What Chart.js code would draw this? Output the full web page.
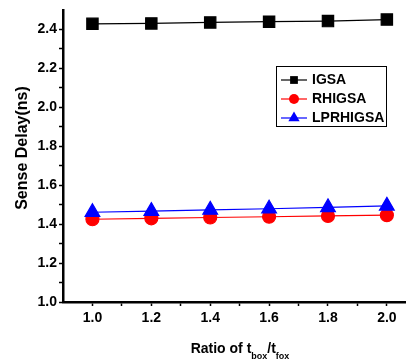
<!DOCTYPE html>
<html>
<head>
<meta charset="utf-8">
<script src="https://cdn.jsdelivr.net/npm/chart.js@4/dist/chart.umd.min.js"></script>
<style>
  html, body { margin: 0; padding: 0; background: #fff; }
  #wrap { width: 406px; height: 363px; }
</style>
</head>
<body>
<div id="wrap"><canvas id="c" width="406" height="363"></canvas></div>
<script>
// Sense delay (ns) against the oxide thickness ratio t_box / t_fox
const ratios   = [1.0, 1.2, 1.4, 1.6, 1.8, 2.0];
const igsa     = [2.429, 2.431, 2.436, 2.440, 2.443, 2.451];
const rhigsa   = [1.425, 1.430, 1.434, 1.438, 1.442, 1.446];
const lprhigsa = [1.461, 1.467, 1.473, 1.479, 1.486, 1.494];

const seriesNames = ['IGSA', 'RHIGSA', 'LPRHIGSA'];
const xTickLabels = ['1.0', '1.2', '1.4', '1.6', '1.8', '2.0'];
const yTickLabels = ['1.0', '1.2', '1.4', '1.6', '1.8', '2.0', '2.2', '2.4'];
const yTitle = 'Sense Delay(ns)';
const xTitleParts = [
  { text: 'Ratio of t', sub: false },
  { text: 'box', sub: true },
  { text: '/t', sub: false },
  { text: 'fox', sub: true }
];

const FONT = '"Liberation Sans", Arial, Helvetica, sans-serif';

function points(ys) {
  return ratios.map((x, i) => ({ x: x, y: ys[i] }));
}

// major ticks at the labelled values, minor ticks half way between them
function withMinor(labels) {
  const major = labels.map(Number);
  const out = [];
  major.forEach((v, i) => {
    out.push(v);
    if (i < major.length - 1) out.push((v + major[i + 1]) / 2);
  });
  return out;
}
const xTicks = withMinor(xTickLabels);
const yTicks = withMinor(yTickLabels);

function labelFor(labels) {
  return (v) => {
    const s = Number(v).toFixed(1);
    return labels.includes(s) ? s : '';
  };
}

function drawMarker(ctx, style, r, x, y, color) {
  ctx.fillStyle = color;
  ctx.beginPath();
  if (style === 'rect') {
    const s = Math.SQRT1_2 * r;
    ctx.rect(x - s, y - s, 2 * s, 2 * s);
  } else if (style === 'circle') {
    ctx.arc(x, y, r, 0, Math.PI * 2);
  } else {
    for (let k = 0; k < 3; k++) {
      const a = k * 2 * Math.PI / 3;
      const px = x + Math.sin(a) * r, py = y - Math.cos(a) * r;
      if (k === 0) ctx.moveTo(px, py); else ctx.lineTo(px, py);
    }
    ctx.closePath();
  }
  ctx.fill();
}

// axis titles (with subscripts) and the boxed legend
const annotate = {
  id: 'annotate',
  afterDraw(chart) {
    const ctx = chart.ctx;
    ctx.save();
    ctx.fillStyle = '#000';

    // y-axis title
    ctx.save();
    ctx.translate(23, 148);
    ctx.rotate(-Math.PI / 2);
    ctx.font = 'bold 16px ' + FONT;
    ctx.textAlign = 'center';
    ctx.textBaseline = 'middle';
    ctx.fillText(yTitle, 0, 0);
    ctx.restore();

    // x-axis title
    const mainFont = 'bold 14px ' + FONT, subFont = 'bold 9px ' + FONT;
    let total = 0;
    xTitleParts.forEach(p => {
      ctx.font = p.sub ? subFont : mainFont;
      p.w = ctx.measureText(p.text).width;
      total += p.w;
    });
    let x = 240 - total / 2;
    ctx.textAlign = 'left';
    ctx.textBaseline = 'alphabetic';
    xTitleParts.forEach(p => {
      ctx.font = p.sub ? subFont : mainFont;
      ctx.fillText(p.text, x, p.sub ? 359 : 353);
      x += p.w;
    });

    // legend
    ctx.strokeStyle = '#000';
    ctx.lineWidth = 1;
    ctx.strokeRect(276.5, 66.5, 110, 60);
    const rowY = [80, 99, 118];
    const legendR = { rect: 5.5, circle: 5, triangle: 6.5 };
    chart.data.datasets.forEach((ds, i) => {
      const y = rowY[i];
      ctx.strokeStyle = ds.borderColor;
      ctx.lineWidth = 1.2;
      ctx.beginPath();
      ctx.moveTo(281, y);
      ctx.lineTo(307, y);
      ctx.stroke();
      drawMarker(ctx, ds.pointStyle, legendR[ds.pointStyle], 294, y, ds.pointBackgroundColor);
      ctx.fillStyle = '#000';
      ctx.font = 'bold 14px ' + FONT;
      ctx.textBaseline = 'middle';
      ctx.fillText(ds.label, 312, y + 0.5);
    });
    ctx.restore();
  }
};

new Chart(document.getElementById('c'), {
  type: 'line',
  data: {
    datasets: [
      { label: seriesNames[0], data: points(igsa), borderColor: '#000000', pointBackgroundColor: '#000000',
        pointBorderColor: '#000000', pointStyle: 'rect', pointRadius: 8, borderWidth: 1.2, order: 3 },
      { label: seriesNames[1], data: points(rhigsa), borderColor: '#ff0000', pointBackgroundColor: '#ff0000',
        pointBorderColor: '#ff0000', pointStyle: 'circle', pointRadius: 6.5, borderWidth: 1.2, order: 2 },
      { label: seriesNames[2], data: points(lprhigsa), borderColor: '#0000ff', pointBackgroundColor: '#0000ff',
        pointBorderColor: '#0000ff', pointStyle: 'triangle', pointRadius: 8.5, borderWidth: 1.2, order: 1 }
    ]
  },
  options: {
    responsive: false,
    animation: false,
    devicePixelRatio: 1,
    layout: { autoPadding: false, padding: { top: 10, right: 0, left: 0, bottom: 0 } },
    plugins: { legend: { display: false }, tooltip: { enabled: false } },
    elements: { line: { tension: 0, fill: false }, point: { borderWidth: 0 } },
    scales: {
      x: {
        type: 'linear',
        min: 0.9,
        max: 2.065,
        afterBuildTicks: (s) => { s.ticks = xTicks.map(v => ({ value: v })); },
        afterFit: (s) => { s.height = 61; s.paddingLeft = 0; s.paddingRight = 0; },
        border: { display: true, color: '#000', width: 2.5 },
        grid: { drawOnChartArea: false, drawTicks: true, tickLength: 4, color: '#000', tickWidth: 1.5 },
        ticks: {
          autoSkip: false, maxRotation: 0, padding: 4, color: '#000',
          font: { family: FONT, size: 14, weight: 'bold' },
          callback: labelFor(xTickLabels)
        }
      },
      y: {
        type: 'linear',
        min: 1.0,
        max: 2.5,
        afterBuildTicks: (s) => { s.ticks = yTicks.map(v => ({ value: v })); },
        afterFit: (s) => { s.width = 63; s.paddingTop = 0; s.paddingBottom = 0; },
        border: { display: true, color: '#000', width: 2.5 },
        grid: { drawOnChartArea: false, drawTicks: true, tickLength: 4, color: '#000', tickWidth: 1.5 },
        ticks: {
          autoSkip: false, padding: 2, color: '#000',
          font: { family: FONT, size: 14, weight: 'bold' },
          callback: labelFor(yTickLabels)
        }
      }
    }
  },
  plugins: [annotate]
});
</script>
</body>
</html>
